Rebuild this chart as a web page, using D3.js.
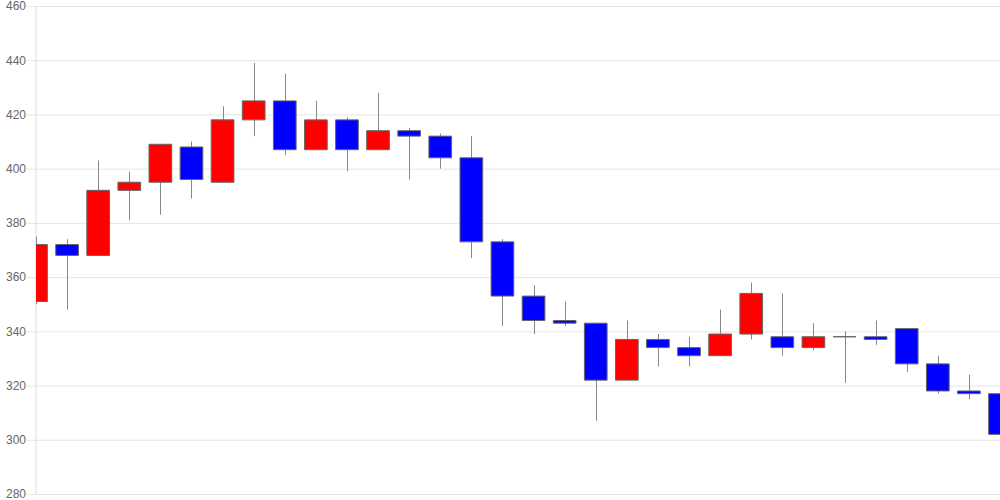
<!DOCTYPE html>
<html>
<head>
<meta charset="utf-8">
<script src="https://cdnjs.cloudflare.com/ajax/libs/d3/7.8.5/d3.min.js"></script>
<style>
  body { margin: 0; background: #fff; }
  svg { display: block; font-family: "Liberation Sans", Arial, sans-serif; }
</style>
</head>
<body>
<svg width="1000" height="500"></svg>
<script>
// daily candles (red = up, blue = down)
var opens  = [351, 372, 368, 392, 395, 408, 395, 418, 425, 407, 418, 407, 414, 412, 404, 373,
              353, 344, 343, 322, 337, 334, 331, 339, 338, 334, 338, 338, 341, 328, 318, 317];
var highs  = [375, 374, 403, 399, 409, 410, 423, 439, 435, 425, 419, 428, 415, 413, 412, 374,
              357, 351, 343, 344, 339, 338, 348, 358, 354, 343, 340, 344, 341, 331, 324, 318];
var lows   = [350, 348, 368, 381, 383, 389, 395, 412, 405, 407, 399, 407, 396, 400, 367, 342,
              339, 342, 307, 322, 327, 327, 331, 337, 331, 333, 321, 335, 325, 317, 315, 302];
var closes = [372, 368, 392, 395, 409, 396, 418, 425, 407, 418, 407, 414, 412, 404, 373, 353,
              344, 343, 322, 337, 334, 331, 339, 354, 334, 338, 338, 337, 328, 318, 317, 302];
var yTicks = [280, 300, 320, 340, 360, 380, 400, 420, 440, 460];

var svg = d3.select("svg"),
    margin = {top: 6, right: 0, bottom: 6, left: 36},
    width = +svg.attr("width") - margin.left - margin.right,
    height = +svg.attr("height") - margin.top - margin.bottom,
    g = svg.append("g").attr("transform", "translate(" + margin.left + "," + margin.top + ")");

var data = opens.map(function(o, i) {
  return {i: i, open: o, high: highs[i], low: lows[i], close: closes[i]};
});

var x = d3.scalePoint()
    .domain(data.map(function(d) { return d.i; }))
    .range([0, width]);

var y = d3.scaleLinear()
    .domain([280, 460])
    .range([height, 0]);

var bodyW = x.step() * 0.73;

// grid + left labels
var yAxis = g.append("g")
    .call(d3.axisLeft(y).tickValues(yTicks).tickSize(-width - 9).tickPadding(3).tickFormat(d3.format("d")))
    .attr("transform", "translate(-9,0)");
yAxis.select(".domain").remove();
yAxis.selectAll(".tick line").attr("stroke", "#e5e5e5");
yAxis.selectAll(".tick text")
    .attr("fill", "#666")
    .attr("font-size", 12)
    .attr("x", -1)
    .attr("dy", "0.32em");

g.append("line")
    .attr("x1", 0).attr("x2", 0)
    .attr("y1", 0).attr("y2", height)
    .attr("stroke", "#ddd");

svg.append("defs").append("clipPath").attr("id", "plot")
  .append("rect").attr("x", 0).attr("y", -2).attr("width", width).attr("height", height + 4);

var candles = g.append("g")
    .attr("clip-path", "url(#plot)")
  .selectAll("g")
  .data(data)
  .enter().append("g");

candles.append("line")
    .attr("x1", function(d) { return Math.round(x(d.i)) + 0.5; })
    .attr("x2", function(d) { return Math.round(x(d.i)) + 0.5; })
    .attr("y1", function(d) { return y(d.high); })
    .attr("y2", function(d) { return y(d.low); })
    .attr("stroke", "#888");

// body as a path so a doji (open == close) still shows as a flat line
candles.append("path")
    .attr("d", function(d) {
      var x0 = x(d.i) - bodyW / 2,
          y0 = y(Math.max(d.open, d.close)),
          h = Math.abs(y(d.open) - y(d.close));
      return "M" + x0 + "," + y0 + "h" + bodyW + "v" + h + "h" + (-bodyW) + "Z";
    })
    .attr("fill", function(d) { return d.close > d.open ? "#ff0000" : "#0000ff"; })
    .attr("stroke", "#666")
    .attr("stroke-width", 1);
</script>
</body>
</html>
